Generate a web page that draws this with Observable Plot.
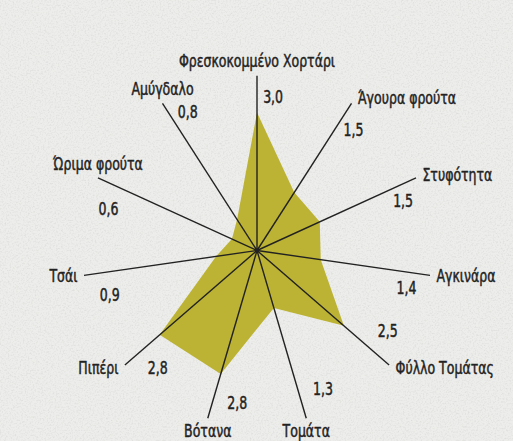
<!DOCTYPE html>
<html><head><meta charset="utf-8">
<script src="https://cdn.jsdelivr.net/npm/d3@7"></script>
<script src="https://cdn.jsdelivr.net/npm/@observablehq/plot@0.6"></script>
<style>
html,body{margin:0;padding:0;background-color:#ededeb;}
#chart svg{display:block;}
</style></head><body><div id="chart"></div>
<script>
const categories = ["Φρεσκοκομμένο Χορτάρι", "Άγουρα φρούτα", "Στυφότητα", "Αγκινάρα", "Φύλλο Τομάτας", "Τομάτα", "Βότανα", "Πιπέρι", "Τσάι", "Ώριμα φρούτα", "Αμύγδαλο"];
const values = [3.0, 1.5, 1.5, 1.4, 2.5, 1.3, 2.8, 2.8, 0.9, 0.6, 0.8];
const valueLabels = ["3,0", "1,5", "1,5", "1,4", "2,5", "1,3", "2,8", "2,8", "0,9", "0,6", "0,8"];

// paper texture
const noise = "<svg xmlns='http://www.w3.org/2000/svg' width='300' height='300'><filter id='n'><feTurbulence type='fractalNoise' baseFrequency='0.6' numOctaves='3' stitchTiles='stitch'/><feColorMatrix values='0 0 0 0 0.6  0 0 0 0 0.6  0 0 0 0 0.59  1.0 0 0 0 -0.45'/></filter><rect width='100%' height='100%' filter='url(%23n)'/></svg>";
document.body.style.backgroundImage = `url("data:image/svg+xml,${noise.replace(/#/g, "%23")}")`;

const W = 513, H = 441, cx = 256.5, cy = 250, k = 46;
const axisLen = 3.8, valueR = 3.35;
const n = categories.length;
const rows = categories.map((c, i) => {
  const a = 2 * Math.PI * i / n;
  const deg = a * 180 / Math.PI;
  const off = (deg < 110 || deg > 310 ? 6 : -9) * Math.PI / 180;
  return {c, v: values[i], lab: valueLabels[i], a, s: Math.sin(a), co: Math.cos(a), la: a + off};
});
const anchorOf = d => (Math.abs(d.s) < 0.45 || (d.co > 0.3 && d.s < 0)) ? "middle" : d.s > 0 ? "start" : "end";
const font = "'DejaVu Sans Condensed', sans-serif";
const ink = "#222222";
const textStyle = {fontSize: 17, fill: ink, stroke: ink, strokeWidth: 0.45};

const catMarks = ["start", "middle", "end"].map(anc =>
  Plot.text(rows.filter(d => anchorOf(d) === anc), {
    x: d => axisLen * d.s + (anc === "middle" ? 0 : 0.14 * Math.sign(d.s)),
    y: d => axisLen * d.co + (anc === "middle" ? 0.3 * Math.sign(d.co) : 0.12 * d.co),
    text: "c",
    textAnchor: anc,
    ...textStyle
  })
);

const chart = Plot.plot({
  width: W, height: H,
  margin: 0,
  style: {background: "transparent", fontFamily: font},
  x: {type: "linear", domain: [-cx / k, (W - cx) / k], range: [0, W], axis: null},
  y: {type: "linear", domain: [-(H - cy) / k, cy / k], range: [H, 0], axis: null},
  marks: [
    Plot.line(rows, {x: d => d.v * d.s, y: d => d.v * d.co, curve: "linear-closed", fill: "#bcb334", stroke: "none"}),
    Plot.link(rows, {x1: 0, y1: 0, x2: d => axisLen * d.s, y2: d => axisLen * d.co, stroke: ink, strokeWidth: 1.4}),
    Plot.dot([0], {x: 0, y: 0, r: 2.2, fill: ink}),
    ...catMarks,
    Plot.text(rows, {x: d => valueR * Math.sin(d.la), y: d => valueR * Math.cos(d.la), text: "lab", ...textStyle})
  ]
});
// condense glyphs horizontally around each text's anchor
d3.select(chart).selectAll("text").each(function () {
  const t = this.getAttribute("transform");
  if (t) this.setAttribute("transform", t + " scale(0.82,1)");
  else {
    const x = +this.getAttribute("x") || 0;
    this.setAttribute("transform", `matrix(0.82,0,0,1,${x * 0.18},0)`);
  }
});
document.getElementById("chart").append(chart);
</script></body></html>
